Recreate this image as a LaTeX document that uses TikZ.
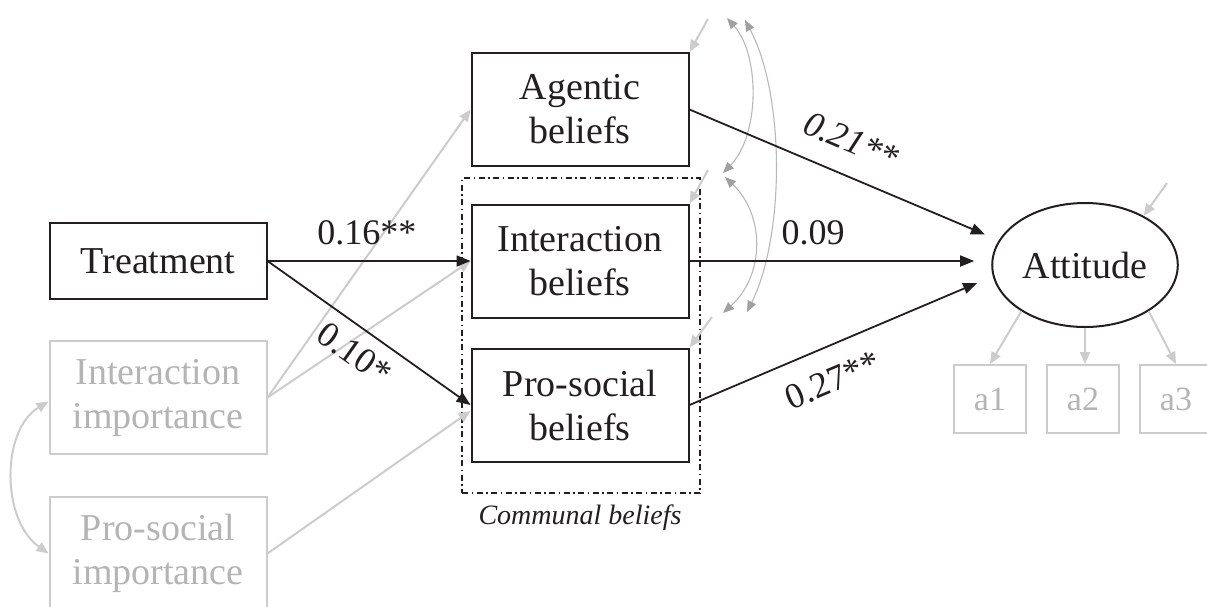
\documentclass[tikz,border=0pt]{standalone}
\usepackage{fontspec}
\setmainfont{Liberation Serif}
\usetikzlibrary{arrows.meta,shapes.geometric}

\definecolor{ink}{HTML}{231F20}
\definecolor{faint}{HTML}{CCCCCC}
\definecolor{fainttext}{HTML}{B4B4B4}
\definecolor{tipgray}{HTML}{A0A0A0}

\def\incol{158}
\def\beliefcol{580}

\begin{document}
\begin{tikzpicture}[x=1pt, y=1pt]
    \tikzstyle{box}=[draw=ink, line width=2pt, minimum width=217pt, minimum height=113pt, align=center, inner sep=2pt, text=ink, font=\fontsize{38}{44}\selectfont]
    \tikzstyle{faint box}=[box, draw=faint, text=fainttext]
    \tikzstyle{item}=[faint box, minimum width=72pt, minimum height=68pt, font=\fontsize{34}{40}\selectfont]
    \tikzstyle{effect}=[draw=ink, line width=1.8pt, -{Triangle[length=14pt, width=11pt]}]
    \tikzstyle{faint path}=[draw=faint, line width=2pt, -{Triangle[length=12pt, width=10pt]}]
    \tikzstyle{cov}=[draw=faint!90!black, line width=1.1pt, {Triangle[length=11pt, width=9pt, color=tipgray]}-{Triangle[length=11pt, width=9pt, color=tipgray]}]
    \tikzstyle{coef}=[inner sep=0pt, text=ink, font=\fontsize{36}{40}\selectfont]

    \useasboundingbox (0,0) rectangle (1207,-606);
    \clip (0,0) rectangle (1207,-606);

    % predictors
    \node[box, minimum height=76pt] (T) at (\incol, -261) {Treatment};
    \node[faint box] (II) at (\incol, -397.5) {Interaction\\importance};
    \node[faint box] (PI) at (\incol, -553.5) {Pro-social\\importance};

    % beliefs
    \node[box] (AgB) at (\beliefcol, -109.5) {Agentic\\beliefs};
    \node[box] (InB) at (\beliefcol, -261) {Interaction\\beliefs};
    \node[box] (PrB) at (\beliefcol, -405) {Pro-social\\beliefs};
    \node[draw=ink, line width=1.8pt, dash pattern=on 6pt off 3.5pt on 1.5pt off 3.5pt,
          minimum width=238pt, minimum height=315pt] (CB) at (581, -335.5) {};
    \node[text=ink, font=\fontsize{28}{32}\selectfont\itshape] (CBl) at (580, -518) {Communal beliefs};

    % outcome
    \node[draw=ink, line width=2pt, ellipse, minimum width=180pt, minimum height=124pt,
          text=ink, font=\fontsize{38}{44}\selectfont] (Att) at (1085, -265) {Attitude};
    \node[item] (a1) at (990, -399) {a1};
    \node[item] (a2) at (1083, -399) {a2};
    \node[item] (a3) at (1176, -399) {a3};

    % residual ends
    \coordinate (rA) at (708, -19);
    \coordinate (rI) at (708, -170);
    \coordinate (rP) at (712, -317);
    \coordinate (rAtt) at (1167, -183);
    \coordinate (eA1) at (727, -18);
    \coordinate (eA2) at (745, -20);
    \coordinate (eI1) at (723, -173);
    \coordinate (eI2) at (725, -177);
    \coordinate (eP1) at (723, -313);
    \coordinate (eP2) at (747, -312);

    % covariates
    \draw[faint path] (II.east) -- (AgB.west);
    \draw[faint path] (II.east) -- (InB.west);
    \draw[faint path] (PI.east) -- ([yshift=-6pt]PrB.west);
    \draw[faint path, {Triangle[length=12pt, width=10pt]}-{Triangle[length=12pt, width=10pt]}]
        ([yshift=-4pt]II.west) .. controls (1,-430) and (1,-520) .. (PI.west);

    % residuals
    \draw[faint path] (rA) -- (AgB.north east);
    \draw[faint path] (rI) -- (InB.north east);
    \draw[faint path] (rP) -- (PrB.north east);
    \draw[faint path] (rAtt) -- (Att.40);
    \draw[cov] (eA1) .. controls (760,-55) and (760,-135) .. (eI1);
    \draw[cov] (eI2) .. controls (765,-215) and (765,-275) .. (eP1);
    \draw[cov] (eA2) .. controls (785,-95) and (785,-235) .. (eP2);

    % indicators
    \draw[faint path] (Att.216) -- (a1.north);
    \draw[faint path] (Att.south) -- (Att.south |- a2.north);
    \draw[faint path] (Att.-36) -- (a3.north);

    % paths
    \draw[effect] (T.east) -- (InB.west)
        node[coef, pos=0.49, above=15pt] (c1) {0.16**};
    \draw[effect] (T.east) -- (PrB.west)
        node[coef, sloped, pos=0.5, below=12pt] (c2) {0.10*};
    \draw[effect, shorten >=15pt] (AgB.east) -- (Att.164)
        node[coef, sloped, pos=0.48, above=21pt, font=\fontsize{36}{40}\selectfont\itshape] (c3) {0.21**};
    \draw[effect, shorten >=17pt] (InB.east) -- (InB.east -| Att.west)
        node[coef, pos=0.41, above=15pt] (c4) {0.09};
    \draw[effect, shorten >=17pt] (PrB.east) -- (Att.187)
        node[coef, sloped, pos=0.43, below=20pt] (c5) {0.27**};
\end{tikzpicture}
\end{document}
